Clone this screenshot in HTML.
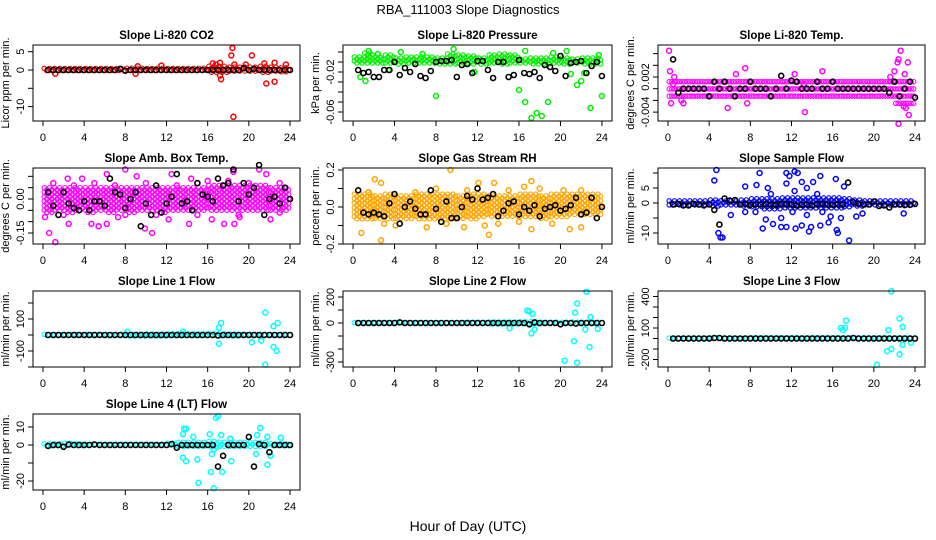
<!DOCTYPE html>
<html><head><meta charset="utf-8">
<style>
html,body{margin:0;padding:0;background:#fff;}
svg{display:block;font-family:"Liberation Sans",Arial,sans-serif;}
</style></head>
<body>
<svg id="chart" width="936" height="540" viewBox="0 0 936 540" xmlns="http://www.w3.org/2000/svg">
<rect x="0" y="0" width="936" height="540" fill="#fff"/>
<text x="468" y="14" text-anchor="middle" font-size="13">RBA_111003  Slope Diagnostics</text>
<text x="468" y="531" text-anchor="middle" font-size="14">Hour of Day (UTC)</text>
<g id="panels"></g>
</svg>
<script>
// ---- data arrays ----
const xTicks = [0,4,8,12,16,20,24];
const titles = ["Slope Li-820 CO2","Slope Li-820 Pressure","Slope Li-820 Temp.","Slope Amb. Box Temp.","Slope Gas Stream RH","Slope Sample Flow","Slope Line 1 Flow","Slope Line 2 Flow","Slope Line 3 Flow","Slope Line 4 (LT) Flow"];
const yTitles = ["Licor ppm per min.","kPa per min.","degrees C per min.","degrees C per min.","percent per min.","ml/min per min.","ml/min per min.","ml/min per min.","ml/min per min.","ml/min per min."];
const colors = ["#ff0000","#00ee00","#ff00ff","#ff00ff","#ffa500","#0000ff","#00ffff","#00ffff","#00ffff","#00ffff"];
const yTickVals = [[5,0,-5,-10],[0,-0.01,-0.02,-0.03,-0.04,-0.05,-0.06],[0.006,0.004,0.002,0,-0.002,-0.004],[0.1,0.05,0,-0.05,-0.1,-0.15],[0.2,0.1,0,-0.1,-0.2],[10,5,0,-5,-10],[200,100,0,-100,-200],[200,100,0,-100,-200,-300],[400,300,200,100,0,-100,-200],[10,0,-10,-20]];
const yTickLabels = [["5","0","","-10"],["","","-0.02","","","","-0.06"],["","","0.002","","","-0.004"],["","","0.00","","","-0.15"],["0.2","","0.0","","-0.2"],["","5","0","","-10"],["","100","","-100",""],["200","","0","","","-300"],["400","","","100","","","-200"],["10","0","","-20"]];
// black series, one value every half hour from 0.5 to 24
const blk1 = [0,0,0,0,0,0,0,0,0,0,0,0,0,0,0.3,-0.2,0,0,0,0,0,0,0,0,0,0,0,0,0,0,0,0,0,0,0,0,0,0,0.5,0,0.3,0,0,0,0,0,0,0];
const blk2 = [-0.018,-0.021,-0.02,-0.025,-0.025,-0.018,-0.018,-0.01,-0.023,-0.016,-0.02,-0.012,-0.024,-0.026,-0.019,-0.01,-0.009,-0.009,-0.008,-0.025,-0.013,-0.012,-0.021,-0.009,-0.009,-0.018,-0.026,-0.01,-0.01,-0.025,-0.023,-0.008,-0.021,-0.022,-0.02,-0.026,-0.013,-0.015,-0.019,-0.004,-0.024,-0.011,-0.01,-0.009,-0.021,-0.014,-0.01,-0.024];
const blk3 = [0.005,-0.0007,0,0,0,0,0,-0.0013,0.0012,0,0.0012,0,-0.0013,0,0,0.0012,0,0,0,-0.0013,0,0.0022,0,0.0014,0.0012,0,0,0,0.0012,0,0,0.0012,0,0,0,0,0,0,0,0,0,0,-0.0007,0.0012,-0.0013,0,0.0012,-0.0015];
const blk4 = [0.03,-0.03,-0.07,0.03,-0.02,-0.04,-0.05,-0.01,-0.05,-0.01,-0.01,-0.03,0.09,0.03,0.02,-0.04,0.00,0.03,-0.12,-0.02,-0.07,0.06,-0.06,-0.02,0.01,0.11,-0.02,-0.01,-0.05,0.07,0.02,0.01,-0.01,0.09,0.06,0.07,0.13,-0.01,0.07,0.02,0.05,0.15,-0.07,0.00,0.01,-0.02,0.05,0.00];
const blk5 = [0.09,-0.03,-0.04,-0.03,-0.04,-0.05,0.02,0.07,-0.09,0.00,0.03,-0.01,-0.04,-0.04,0.09,-0.01,-0.08,0.03,-0.06,-0.06,0.00,0.06,0.04,0.10,0.04,0.05,0.07,-0.05,-0.02,0.02,0.03,-0.04,0.00,-0.02,0.01,-0.05,-0.01,0.00,0.01,-0.02,-0.01,0.01,0.05,-0.04,-0.03,0.05,-0.06,0];
const blk6 = [-0.5,-0.3,-0.8,-0.8,-0.3,-0.5,-0.8,-0.5,-2.3,-7.2,1.5,0.8,1,-0.5,-0.3,-0.6,-0.5,-0.5,-0.4,-0.5,-0.6,-0.3,-0.4,-0.5,-0.8,-0.6,-0.5,-0.8,-0.4,-0.3,-0.5,-0.6,-0.4,-0.5,6.8,0.3,-0.3,-0.5,-0.5,0.5,-1,-0.8,-1.5,-0.5,-0.5,-0.7,-0.6,-0.3];
const blk7 = [0,0,0,0,0,0,0,0,0,0,0,0,0,0,0,0,0,0,0,0,0,0,0,0,0,0,0,0,0,0,0,0,0,-3,0,0,0,0,0,0,0,0,0,0,0,0,0,0];
const blk8 = [0,0,0,0,0,0,0,0,5,0,0,0,0,0,0,0,0,0,0,0,0,0,0,0,0,0,0,0,0,0,0,0,0,-10,5,0,0,0,0,-10,0,0,-5,0,0,0,0,0];
const blk9 = [0,0,0,0,0,0,0,0,5,5,0,0,0,0,0,0,0,0,0,0,0,0,0,0,0,0,0,0,0,0,0,0,0,0,0,5,0,0,0,0,0,0,0,0,0,0,0,0];
const blk10 = [-0.5,0,0,-1,0.3,0,0,0,0,0.2,0,0,0,0,0,0,0,0,0,0,0,0,0,0,0.5,-1.5,0,0,0,0,0,0,0,-12,-6,0,0,0,0,4.5,-12,0.5,0,-4,0,0,0,0];
// dense coloured band per hour (low / high)
const bandLo = [[-0.4,-0.4,-0.4,-0.4,-0.4,-0.4,-0.4,-0.4,-0.5,-0.5,-0.4,-0.5,-0.4,-0.4,-0.4,-0.5,-0.8,-1,-0.8,-0.8,-0.8,-0.8,-0.8,-0.6],
 [-0.012,-0.012,-0.012,-0.012,-0.012,-0.012,-0.012,-0.012,-0.012,-0.012,-0.012,-0.012,-0.012,-0.012,-0.012,-0.012,-0.012,-0.012,-0.012,-0.012,-0.012,-0.012,-0.012,-0.012],
 [-0.0013,-0.0013,-0.0013,-0.0013,-0.0013,-0.0013,-0.0013,-0.0013,-0.0013,-0.0013,-0.0013,-0.0013,-0.0013,-0.0013,-0.0013,-0.0013,-0.0013,-0.0013,-0.0013,-0.0013,-0.0013,-0.0013,-0.0026,-0.0026],
 [-0.06,-0.05,-0.06,-0.05,-0.06,-0.05,-0.06,-0.05,-0.06,-0.05,-0.05,-0.06,-0.05,-0.05,-0.05,-0.05,-0.05,-0.05,-0.05,-0.05,-0.05,-0.05,-0.05,-0.05],
 [-0.07,-0.07,-0.07,-0.07,-0.07,-0.07,-0.07,-0.07,-0.07,-0.07,-0.07,-0.07,-0.06,-0.06,-0.06,-0.06,-0.06,-0.06,-0.07,-0.06,-0.06,-0.05,-0.05,-0.05],
 [-0.7,-0.7,-0.7,-0.7,-1.4,-1,-1,-1.4,-1.7,-2,-2,-2,-2,-2,-2,-2,-2,-1.4,-1.4,-1,-1,-0.7,-0.7,-0.7],
 [-4,-4,-4,-4,-4,-4,-4,-4,-6,-6,-6,-6,-8,-10,-10,-10,-10,-8,-6,-4,-4,-4,-4,-4],
 [-4,-4,-4,-4,-6,-4,-4,-4,-4,-4,-4,-6,-6,-8,-8,-8,-10,-10,-6,-6,-6,-6,-6,-6],
 [-5,-5,-5,-5,-5,-5,-5,-5,-8,-8,-8,-8,-8,-8,-8,-8,-10,-10,-8,-8,-8,-8,-8,-8],
 [-0.7,-0.7,-0.7,-0.7,-0.5,-0.5,-0.5,-0.5,-0.5,-0.5,-0.5,-0.5,-0.7,-1,-1,-1,-1.5,-1.5,-1,-1,-1,-1,-0.7,-0.7]];
const bandHi = [[0.4,0.4,0.4,0.4,0.4,0.4,0.4,0.4,0.5,0.5,0.4,0.5,0.4,0.4,0.4,0.5,1,1,0.8,0.8,0.8,1,0.8,0.6],
 [-0.005,-0.001,-0.005,-0.003,-0.006,-0.005,-0.005,-0.005,-0.006,-0.002,-0.003,-0.004,-0.006,-0.003,-0.002,-0.003,-0.007,-0.006,-0.006,-0.005,-0.006,-0.007,-0.006,-0.006],
 [0.0012,0.0012,0.0012,0.0012,0.0012,0.0012,0.0012,0.0012,0.0012,0.0012,0.0012,0.0012,0.0012,0.0012,0.0012,0.0012,0.0012,0.0012,0.0012,0.0012,0.0012,0.0012,0.0012,0.0012],
 [0.05,0.05,0.05,0.05,0.05,0.05,0.05,0.05,0.05,0.05,0.05,0.05,0.05,0.05,0.05,0.05,0.06,0.06,0.06,0.06,0.06,0.06,0.05,0.05],
 [0.07,0.07,0.06,0.07,0.06,0.06,0.07,0.07,0.07,0.07,0.06,0.07,0.07,0.06,0.06,0.06,0.07,0.07,0.06,0.07,0.07,0.07,0.07,0.07],
 [0.7,0.7,0.7,0.7,1,0.7,0.7,1,1.4,1.4,1.4,1.7,1.7,1.7,1.7,1.7,1.7,1.4,1,0.7,0.7,0.7,0.7,0.7],
 [4,4,4,4,4,4,4,4,6,6,6,6,8,8,8,8,10,8,6,4,4,4,4,4],
 [4,4,4,4,6,4,4,4,4,4,4,6,6,8,8,8,10,10,6,6,6,6,6,6],
 [4,4,4,4,6,4,4,4,8,8,8,8,8,8,8,8,8,8,6,6,6,6,6,6],
 [0.7,0.7,1,0.7,0.5,0.5,0.5,0.5,0.5,0.5,0.5,0.5,1,1.5,1.5,1.5,2,1.5,1.5,1.5,1.5,1.5,0.7,0.7]];
// coloured outlier points [hour, value]
const out1 = [[18.4,6],[18.3,4],[20.3,4],[18.5,-12.8],[17.3,-2.5],[17.2,-1.5],[21.7,-3.7],[22.5,-3.2],[17.2,2],[19.7,1.5],[21.5,1.8],[22.5,2],[23.6,1.5],[16.5,1.8],[1.2,-1],[11.5,1.2],[9,-1],[9.2,1],[16.8,1.5],[18.6,1.5]];
const out2 = [[1.5,0.001],[4.6,0],[9.7,0.003],[16.6,0.001],[20.6,0.001],[8,-0.044],[16,-0.038],[16.6,-0.05],[17.2,-0.066],[17.7,-0.061],[18.2,-0.064],[18.8,-0.05],[22.9,-0.056],[24,-0.044],[21.6,-0.033],[22,-0.029],[0.7,-0.025],[1.2,-0.029],[23.7,-0.003],[2.4,-0.002],[6.7,-0.002],[19.3,-0.001],[11.7,-0.02],[21,-0.022],[22.3,-0.021],[3.4,-0.018]];
const out3 = [[0.1,0.0065],[0.2,0.003],[0.3,-0.0025],[0.6,0.002],[0.5,0.0008],[1.5,-0.0025],[6.6,0.0025],[7.5,0.0035],[5.8,-0.0033],[7.7,-0.0025],[13.3,-0.004],[15,0.003],[22.6,0.0065],[22.4,0.005],[22.3,0.0045],[23.3,0.0045],[22.4,-0.006],[23.4,-0.0045],[22.9,-0.003],[23.1,-0.0033],[21.6,0.002],[22,0.003],[23,0.0025],[12.3,0.0025],[1.3,-0.002],[13.2,0.0008]];
const out4 = [[1.2,-0.19],[0.6,-0.15],[2.4,0.09],[3.8,0.09],[6.2,0.11],[8,0.13],[9.1,0.1],[12.5,0.11],[14.4,0.09],[18.5,0.12],[21,0.13],[21.7,0.11],[2.5,-0.11],[4.7,-0.11],[5.4,-0.12],[6.2,-0.11],[9.9,-0.13],[10.6,-0.15],[14.2,-0.11],[16.4,-0.09],[17.6,-0.11],[18.6,-0.11],[19.1,-0.08],[22.1,-0.09],[0.2,-0.08],[7.3,-0.08],[12.2,-0.09],[1,0.07],[3,0.06],[5,0.07],[7,0.06],[10,0.07],[13,0.06],[16,0.08],[18,0.08],[20,0.07],[23,0.07],[2,-0.07],[8,-0.07],[11,-0.07],[15,-0.07],[19,-0.07],[23,-0.06]];
const out5 = [[2.1,0.15],[2.7,0.13],[9.4,0.2],[12.1,0.13],[13.6,0.13],[17.2,0.14],[16.5,0.11],[20.3,0.09],[0.8,-0.14],[2.7,-0.18],[7.1,-0.11],[10.7,-0.11],[13.1,-0.15],[12.7,-0.1],[17.2,-0.12],[20.9,-0.12],[22,-0.11],[19.2,-0.09],[4.1,-0.1],[1.5,0.08],[6,0.08],[8,0.1],[11,0.09],[15,0.09],[18,0.1],[22,0.09],[3,-0.09],[9,-0.09],[14,-0.09],[16,-0.08]];
const out6 = [[4.7,11],[4.5,7.5],[4.9,-10],[5.1,-11.5],[5.3,-11.5],[8.9,10],[11.5,10],[11.8,9],[12.3,10.5],[12.6,10],[14.8,9],[16.3,8],[13,7],[14.1,7],[11.5,6.5],[17.1,5.5],[7.5,5.5],[8.6,6],[9.7,5],[12.3,4],[13.5,5],[9.2,-8.5],[10.2,-7],[11,-8],[11.5,-8],[12.4,-8.5],[13,-7.5],[13.7,-9.5],[13.9,-8],[14.8,-7.5],[15.6,-6.5],[16.4,-9],[16.5,-10],[17.6,-12.5],[16.8,-5],[18.3,-4.5],[18.9,-3.5],[22.9,-3.5],[6.1,-4],[7.5,-3],[9.5,-5.5],[11,-5],[12.1,-3],[13.5,-4],[15.8,-4.5],[10,3],[14.5,3],[8.5,-3],[15,-3]];
const out7 = [[21.6,140],[17.3,75],[17.1,45],[21.6,-185],[22.4,-75],[22.7,-100],[22.4,55],[22.8,75],[17.1,-55],[20.3,-45],[21.2,-35],[13.6,20],[8.2,20]];
const out8 = [[22.5,240],[21.6,150],[16.8,95],[17.0,90],[17.3,70],[21.4,80],[22.9,45],[17.2,-80],[17.5,-50],[22.4,-50],[23.6,-45],[21.3,-140],[22.8,-185],[20.4,-290],[21.6,-305],[15.1,-40]];
const out9 = [[21.7,450],[22.5,190],[17.3,170],[22.8,110],[16.8,100],[17.2,100],[17.0,80],[21.4,80],[22.8,-60],[23.6,-40],[21.3,-120],[21.7,-100],[22.5,-150],[20.3,-250]];
const out10 = [[17.0,16],[16.8,15],[13.7,9],[13.9,9],[13.6,6],[14.6,4.5],[16.2,6],[17.3,5.5],[21.1,9.5],[20.8,5.5],[21.8,4.5],[23.1,4],[18.2,3.5],[13.6,-7],[13.9,-9],[15.0,-8],[15.1,-21],[16.3,-15],[16.6,-24],[17.4,-15],[16.4,-5],[18.3,-9],[20.7,-5],[21.8,-11],[22.1,-6],[16.6,-2.5]];

const blks = [blk1,blk2,blk3,blk4,blk5,blk6,blk7,blk8,blk9,blk10];
const outs = [out1,out2,out3,out4,out5,out6,out7,out8,out9,out10];
// calibration: [value A, pixel A, value B, pixel B]
const yCal = [[0,70,5,51.7],[0,52,-0.02,72],[0,88.7,0.002,77],[0,199,-0.15,233],[0,207,0.2,170],[0,203,5,188],[0,335,100,319],[0,323,200,297],[0,338.5,100,328],[0,445,10,427]];
const rowStep = [4,4,7.2,4.5,4.5,4,4,4,4,4];

const NS = "http://www.w3.org/2000/svg";
const root = document.getElementById("panels");
function mk(tag, attrs, parent){ const e=document.createElementNS(NS,tag); for(const k in attrs) e.setAttribute(k,attrs[k]); parent.appendChild(e); return e; }
const colBox = [[33,300],[343,612],[658,925]];
const rowTop = [45,168,291,414];
const boxH = 76;

for(let p=0;p<10;p++){
  const c = p%3, r = Math.floor(p/3);
  const L = colBox[c][0], R = colBox[c][1], T = rowTop[r], B = T+boxH;
  const xs = v => L + (R-L)*(v + 0.97)/25.94;
  const cal = yCal[p];
  const ys = v => cal[1] + (v-cal[0])*(cal[3]-cal[1])/(cal[2]-cal[0]);
  const g = mk("g",{},root);
  
  
  const t = mk("text",{x:(L+R)/2,y:T-6,"text-anchor":"middle","font-size":"11.5","font-weight":"bold"},g);
  t.textContent = titles[p];
  
  
  const col = colors[p];
  const bandG = mk("g",{fill:"none",stroke:col,"stroke-width":"1.1"},g);
  
  
  for(let h=0;h<24;h++){
    const y1 = ys(bandHi[p][h]), y2 = ys(bandLo[p][h]);
    for(let k=0;k<4;k++){
      const xv = h + k/4 + 0.12;
      const off = (k%2)*rowStep[p]/2*(p===2?0:1);
      for(let yy=y1+off; yy<=y2+0.1; yy+=rowStep[p]){
        mk("circle",{cx:xs(xv).toFixed(1),cy:yy.toFixed(1),r:"2.2"},bandG);
      }
    }
  }
  const outG = mk("g",{fill:"none",stroke:col,"stroke-width":"1.5"},g);
  
  
  outs[p].forEach(pt=>{
    const ci = mk("circle",{cx:xs(pt[0]).toFixed(1),cy:ys(pt[1]).toFixed(1),r:"2.5"},outG);
    
    
  });
  const bG = mk("g",{fill:"none",stroke:"#000","stroke-width":"1.6"},g);
  
  
  blks[p].forEach((v,i)=>{
    const ci = mk("circle",{cx:xs(0.5*(i+1)).toFixed(1),cy:ys(v).toFixed(1),r:"2.5"},bG);
    
    
  });
  const bx = mk("rect",{x:L,y:T,width:R-L,height:boxH,fill:"none",stroke:"#000","stroke-width":"1"},g);
  
  
  const xa = mk("g",{},g);
  
  
  mk("line",{x1:xs(0),x2:xs(24),y1:B,y2:B,stroke:"#000"},xa);
  xTicks.forEach(v=>{
    mk("line",{x1:xs(v),x2:xs(v),y1:B,y2:B+5,stroke:"#000"},xa);
    const tl = mk("text",{x:xs(v),y:B+20,"text-anchor":"middle","font-size":"11"},xa);
    tl.textContent = v;
    
    
  });
  const ya = mk("g",{},g);
  
  
  const tv = yTickVals[p];
  mk("line",{x1:L,x2:L,y1:ys(tv[0]),y2:ys(tv[tv.length-1]),stroke:"#000"},ya);
  tv.forEach((v,i)=>{
    const py = ys(v);
    mk("line",{x1:L-5,x2:L,y1:py,y2:py,stroke:"#000"},ya);
    const lab = yTickLabels[p][i];
    if(lab){
      const tl = mk("text",{x:L-9,y:py,"text-anchor":"middle","font-size":"11",transform:`rotate(-90 ${L-9} ${py})`},ya);
      tl.textContent = lab;
      
      
    }
  });
  const yt = mk("text",{x:L-24,y:(T+B)/2,"text-anchor":"middle","font-size":"11",transform:`rotate(-90 ${L-24} ${(T+B)/2})`},ya);
  yt.textContent = yTitles[p];
  
  
}
</script>
</body></html>
